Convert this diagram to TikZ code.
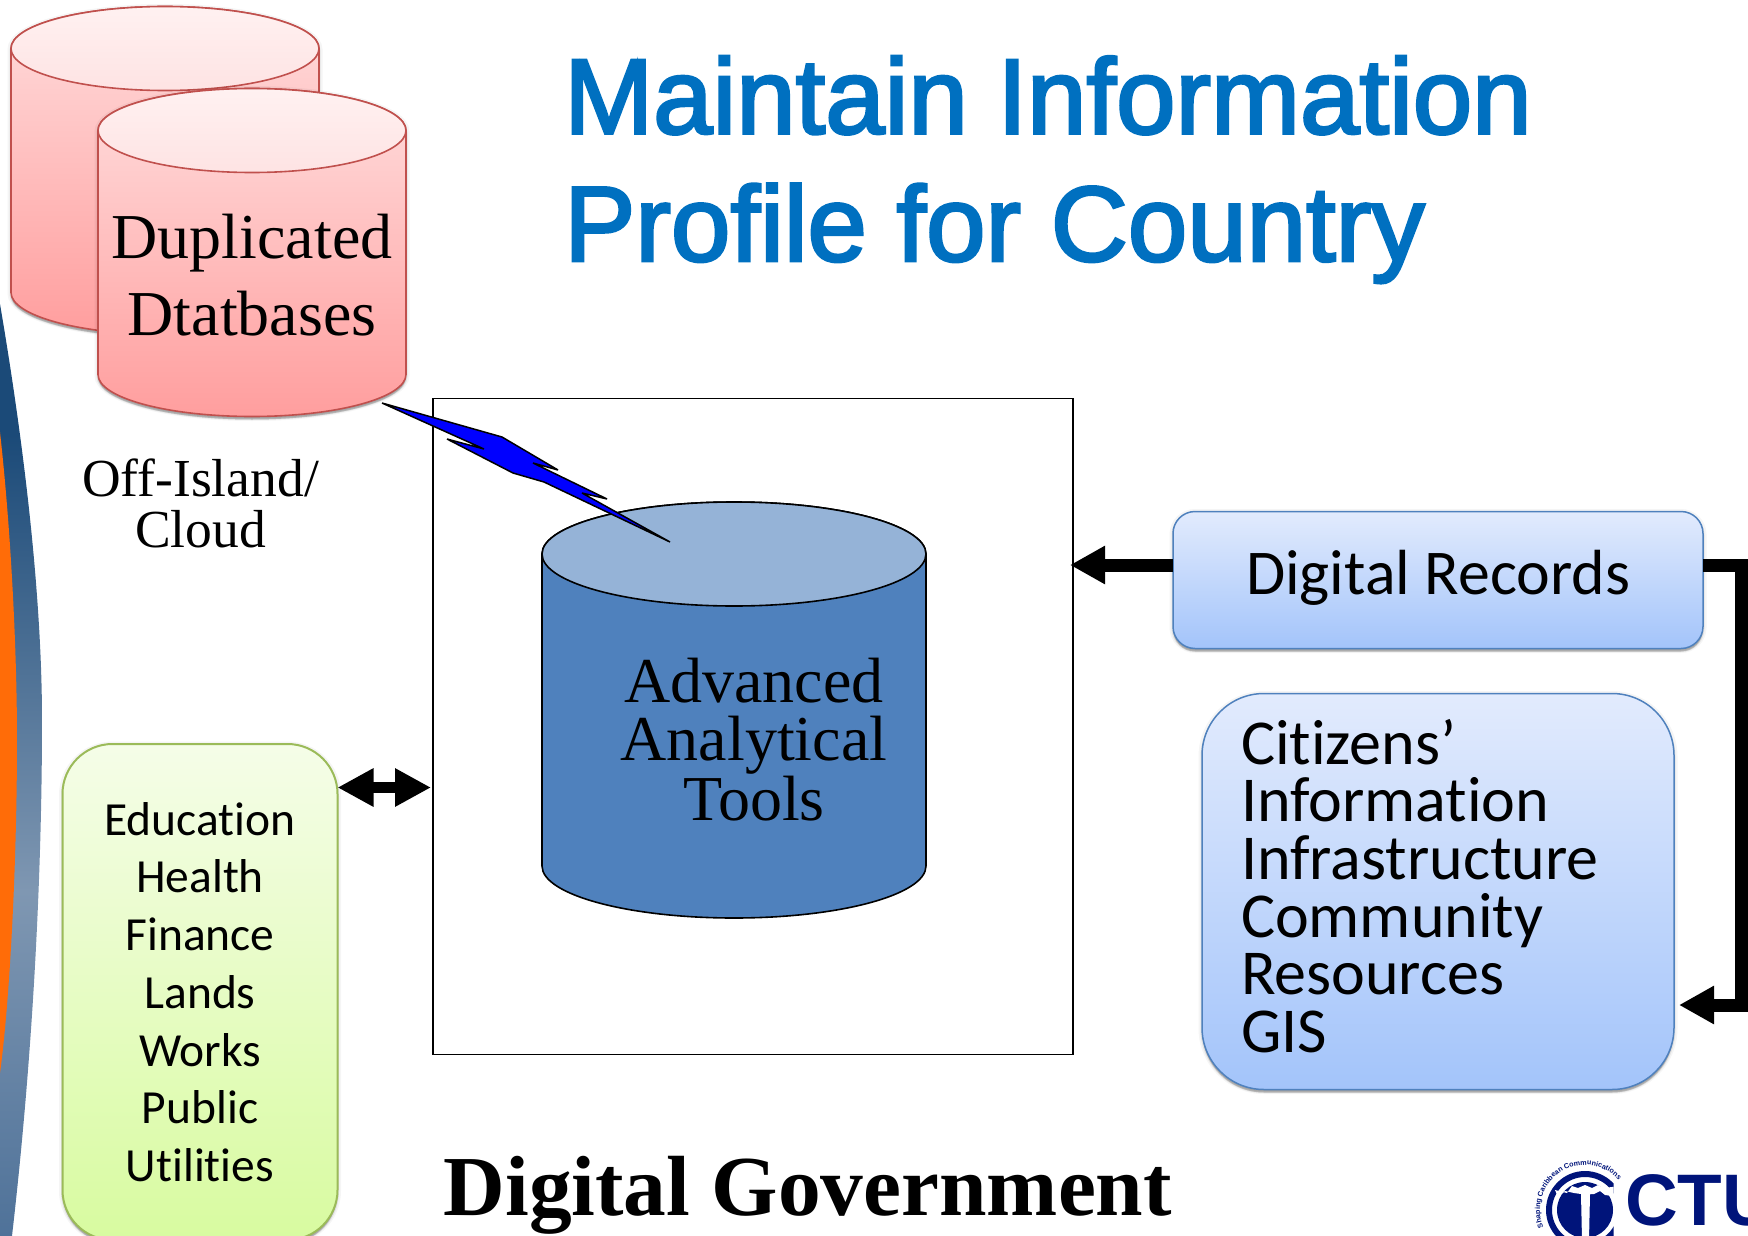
\documentclass[tikz,border=0pt]{standalone}
\usepackage{fontspec}
\usetikzlibrary{arrows.meta,shadows,decorations.text,calc}
\newfontfamily\tnr{Liberation Serif}
\newfontfamily\arl{Liberation Sans}
\newfontfamily\arlfat[FakeBold=2.6]{Liberation Sans}
\newfontfamily\crl[Ligatures=NoCommon]{Carlito}
\definecolor{titleblue}{HTML}{0070C0}
\definecolor{pinkedge}{HTML}{C0504D}
\definecolor{blueedge}{HTML}{4F81BD}
\definecolor{greenedge}{HTML}{9BBB59}
\definecolor{navy}{HTML}{00147A}
\definecolor{swA}{HTML}{4F7299}
\definecolor{swB}{HTML}{7F97B2}
\definecolor{swC}{HTML}{1B4A78}
\definecolor{orangeS}{HTML}{FF6C08}
\pgfdeclareverticalshading{swoosh}{100bp}{color(0bp)=(swA);color(25bp)=(swA);color(43.5bp)=(swB);color(68bp)=(swC);color(100bp)=(swC)}
\tikzset{
  softsh/.style={
    general shadow={shadow yshift=-1pt,fill=black,draw=black,line width=7pt,opacity=.04},
    general shadow={shadow yshift=-2pt,fill=black,draw=black,line width=3pt,opacity=.08},
    general shadow={shadow yshift=-3pt,fill=black,opacity=.2}},
  bluebox/.style={draw=blueedge,line width=1.5pt,top color=blueT,bottom color=blueB,inner sep=0pt,outer sep=0pt,softsh},
  greenbox/.style={draw=greenedge,line width=2pt,top color=greenT,bottom color=greenB,inner sep=0pt,outer sep=0pt,softsh},
  fat/.style={line width=13pt,-{Triangle[length=35pt,width=36pt]}},
  fatboth/.style={line width=11pt,{Triangle[length=36pt,width=36pt]}-{Triangle[length=36pt,width=36pt]}},
  pinkside/.style={draw=pinkedge,line width=1.6pt,top color=pinkT,bottom color=pinkB,softsh},
  pinkcap/.style={draw=pinkedge,line width=1.6pt,top color=capT,bottom color=capB},
  serifbig/.style={font=\tnr\fontsize{64}{58}\selectfont,align=center,inner sep=0pt,text=black},
  titletext/.style={anchor=base west,inner sep=0pt,text=titleblue,font=\arlfat\fontsize{106.8}{127}\selectfont},
}
\definecolor{blueT}{HTML}{E2EBFD}
\definecolor{blueB}{HTML}{A3C4FA}
\definecolor{greenT}{HTML}{F5FDE8}
\definecolor{greenB}{HTML}{D8FBA0}
\definecolor{pinkT}{HTML}{FFDCDC}
\definecolor{pinkB}{HTML}{FF9E9E}
\definecolor{capT}{HTML}{FFF1F1}
\definecolor{capB}{HTML}{FEE3E3}
\newcommand\pinkcyl{%
  \path[pinkside] (98,130.5) -- (98,374.5) arc[start angle=180,end angle=360,x radius=154pt,y radius=42pt] -- (406,130.5) arc[start angle=0,end angle=180,x radius=154pt,y radius=42pt] -- cycle;
  \path[pinkcap] (252,130.5) ellipse[x radius=154pt,y radius=42pt];}
\begin{document}
\begin{tikzpicture}[x=1pt,y=-1pt]
\useasboundingbox (0,0) rectangle (1748,1236);
\clip (0,0) rectangle (1748,1236);
% swoosh
\path[shading=swoosh] (0,304) .. controls (30,480) and (42,620) .. (42,720) .. controls (42,900) and (30,1080) .. (12,1236) -- (0,1236) -- cycle;
\path[fill=orangeS] (0,432) .. controls (12,540) and (17,660) .. (17,740) .. controls (17,860) and (10,1000) .. (0,1073) -- cycle;
% title
\node[titletext] (title1) at (564,133.5) {Maintain Information};
\node[titletext] (title2) at (564,261) {Profile for Country};
% databases
\begin{scope}[shift={(-87,-82)}]\pinkcyl\end{scope}
\pinkcyl
\node[serifbig,font=\tnr\fontsize{64}{77}\selectfont] (dupl) at (252,275) {Duplicated\\Dtatbases};
\node[serifbig,font=\tnr\fontsize{53.5}{51}\selectfont] (off) at (200.5,503) {Off-Island/\\Cloud};
% core box
\node[draw=black,line width=1.6pt,fill=white,minimum width=640pt,minimum height=656pt,inner sep=0pt,outer sep=0pt] (core) at (753,726.5) {};
% analytical cylinder
\path[draw=black,line width=1.6pt,fill=blueedge] (542,554) -- (542,866) arc[start angle=180,end angle=360,x radius=192pt,y radius=52pt] -- (926,554) arc[start angle=0,end angle=180,x radius=192pt,y radius=52pt] -- cycle;
\path[draw=black,line width=1.6pt,fill={rgb,255:red,149;green,179;blue,215}] (734,554) ellipse[x radius=192pt,y radius=52pt];
\node[serifbig] (tools) at (754,739.5) {Advanced\\Analytical\\Tools};
% lightning
\path[draw=black,line width=1.5pt,fill=blue,line join=miter,miter limit=3]
 (382,403) -- (502,437) -- (558,470) -- (533,463) -- (607,499) -- (582,493) -- (670,542)
 -- (544,482) -- (513,473) -- (447,439) -- (484,449) -- cycle;
% side boxes
\node[greenbox,rounded corners=50pt,minimum width=275pt,minimum height=496pt,align=center,font=\crl\fontsize{47.5}{57.7}\selectfont] (sectors) at (200,992) {Education\\Health\\Finance\\Lands\\Works\\Public\\Utilities};
\node[bluebox,rounded corners=22pt,minimum width=530pt,minimum height=137pt] (records) at (1438,580) {};
\node[inner sep=0pt,font=\crl\fontsize{63.8}{70}\selectfont] (recordstext) at (1438,578) {Digital Records};
\node[bluebox,rounded corners=62pt,minimum width=472pt,minimum height=396pt] (citizens) at (1438,891.5) {};
\node[align=left,text width=392pt,inner sep=0pt,font=\crl\fontsize{64}{57.6}\selectfont] (citizenstext) at (1437,886) {Citizens’\\Information\\Infrastructure\\Community\\Resources\\GIS};
% connectors
\coordinate (ra) at (1741.5,565);
\coordinate (rb) at (1741.5,1005);
\draw[fat,shorten >=-3pt] (records.west |- ra) -- (core.east |- ra);
\draw[line width=13pt,line join=miter] (records.east |- ra) -- (ra) -- (rb) -- (1714,1005);
\draw[fat,shorten >=5pt] (rb) -- (citizens.east |- rb);
\draw[fatboth,shorten >=2pt] (sectors.east |- 0,787.5) -- (core.west |- 0,787.5);
% heading bottom
\node[anchor=base west,inner sep=0pt,font=\tnr\bfseries\fontsize{85.4}{90}\selectfont] (digigov) at (443.5,1215) {Digital Government};
% logo
\node[anchor=base west,inner sep=0pt,text=navy,font=\arl\bfseries\fontsize{73}{73}\selectfont] (ctu) at (1625,1225) {CTU};
\begin{scope}
\clip (1540,1150) rectangle (1613.5,1236);
\path[draw=navy,line width=6pt] (1585,1210) circle[radius=36pt];
\path[fill=navy] (1585,1210) circle[radius=28pt];
\path[fill=white] (1555,1190) -- (1567,1193) -- (1572,1186) -- (1578,1188) -- (1585,1185) -- (1592,1188) -- (1598,1185) -- (1604,1188) -- (1620,1186) -- (1620,1197)
 -- (1605,1195) -- (1600,1191) -- (1594,1194) -- (1590,1194) -- (1589,1240) -- (1582,1240) -- (1581,1194) -- (1574,1193) -- (1565,1191) -- (1558,1197) -- cycle;
\end{scope}
\path[postaction={decorate},decoration={text along path,text align=center,text color=navy,text={|\arl\bfseries\fontsize{7.2}{7}\selectfont|Shaping Caribbean Communications}}]
 (1585,1210) ++(210:45pt) arc[start angle=210,end angle=34,x radius=45pt,y radius=45pt];
\end{tikzpicture}
\end{document}
